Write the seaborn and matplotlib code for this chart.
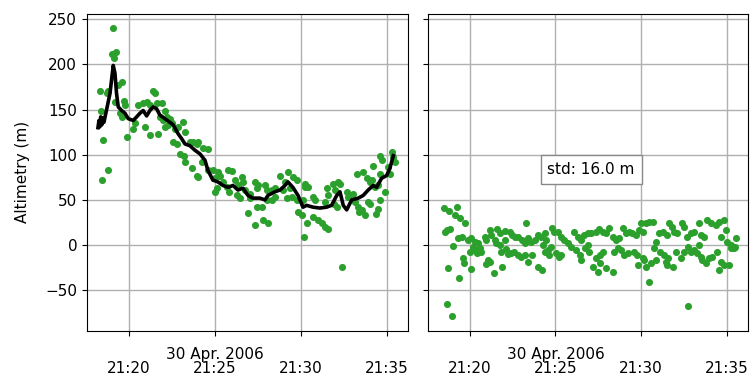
# Altimetry along track: raw GPS altitude + smoothed curve, and residuals

import pandas as pd
import matplotlib
matplotlib.use("Agg")
import matplotlib.pyplot as plt
import seaborn as sns

# --- raw altimetry (minutes after 21:00, metres) ---
alt_min = [19.05, 19.0, 19.24, 19.13, 18.31, 18.80, 18.70, 18.37, 18.51, 18.76,
           18.45, 19.58, 19.38, 19.19, 19.71, 19.77, 19.48, 19.6, 19.87, 20.25,
           20.35, 20.54, 20.83, 21.03, 21.22, 21.41, 21.51, 20.93, 21.25, 21.70,
           21.61, 21.90, 22.09, 22.19, 21.80, 21.99, 22.1, 22.28, 22.38, 22.52,
           22.67, 22.87, 22.58, 22.77, 23.16, 23.26, 22.97, 23.18, 23.28, 23.55,
           23.74, 23.94, 23.65, 23.96, 24.03, 24.32, 24.58, 24.23, 24.0, 24.61,
           24.90, 25.0, 25.19, 25.29, 25.10, 25.02, 25.77, 25.97, 25.48, 25.68,
           25.79, 26.16, 26.32, 26.55, 26.65, 26.26, 26.45, 26.74, 27.03, 27.05,
           26.94, 27.33, 27.52, 27.42, 27.44, 27.72, 27.35, 27.81, 28.10, 27.91,
           28.01, 28.30, 28.49, 28.0, 28.32, 28.51, 28.78, 29.07, 29.26, 29.55,
           29.75, 28.97, 29.36, 29.17, 29.46, 29.77, 29.84, 30.04, 30.13, 30.23,
           30.25, 30.42, 30.33, 30.2, 30.72, 30.81, 30.7, 31.01, 31.20, 31.40,
           31.59, 31.42, 31.49, 31.6, 31.88, 31.98, 32.17, 32.27, 31.9, 32.08,
           32.66, 32.75, 33.04, 33.14, 33.33, 33.53, 33.72, 33.35, 33.24, 33.62,
           33.82, 34.01, 33.91, 34.03, 34.11, 34.30, 34.20, 34.59, 34.69, 34.6,
           34.49, 34.57, 34.36, 34.5, 34.88, 35.08, 35.17, 35.27, 35.37, 35.47,
           32.37]
alt_m = [240, 212, 214, 207, 171, 171, 168, 149, 116, 83,
         72, 181, 177, 158, 160, 155, 146, 142, 120, 129,
         135, 155, 157, 158, 155, 171, 168, 131, 122, 123,
         157, 157, 149, 142, 142, 139, 131, 133, 140, 135,
         129, 131, 114, 112, 136, 125, 101, 99, 92, 114,
         114, 112, 85, 77, 114, 107, 106, 92, 75, 83,
         83, 74, 81, 77, 63, 59, 83, 82, 70, 64,
         59, 72, 66, 75, 70, 55, 52, 61, 57, 52,
         35, 70, 66, 63, 42, 42, 22, 28, 24, 66,
         61, 61, 63, 50, 50, 53, 77, 70, 81, 75,
         72, 61, 63, 52, 53, 50, 37, 33, 50, 64,
         68, 64, 24, 9, 53, 50, 31, 28, 24, 20,
         18, 48, 63, 55, 68, 61, 70, 68, 46, 42,
         59, 53, 57, 48, 42, 39, 33, 37, 79, 81,
         74, 70, 48, 46, 72, 64, 88, 99, 94, 79,
         66, 50, 34, 40, 59, 87, 79, 103, 98, 92,
         -24]

# --- smoothed altimetry (black curve) ---
smooth_min = [18.20, 18.26, 18.31, 18.36, 18.42, 18.48, 18.55, 18.90, 19.09, 19.19,
              19.28, 19.38, 19.58, 19.77, 19.96, 20.25, 20.45, 20.64, 20.83, 21.03,
              21.22, 21.41, 21.61, 21.80, 22.09, 22.38, 22.58, 22.87, 23.06, 23.26,
              23.55, 23.84, 24.13, 24.42, 24.59, 24.88, 25.17, 25.47, 25.76, 26.05,
              26.34, 26.63, 26.92, 27.21, 27.62, 27.91, 28.08, 28.49, 28.78, 29.07,
              29.24, 29.53, 29.83, 30.12, 30.33, 30.70, 31.10, 31.49, 31.78, 32.08,
              32.27, 32.46, 32.66, 32.95, 33.33, 33.62, 33.91, 34.20, 34.40, 34.69,
              34.98, 35.17, 35.37]
smooth_m = [130, 138, 131, 142, 133, 141, 136, 168, 199, 190,
            168, 153, 149, 146, 140, 138, 142, 146, 149, 143,
            149, 153, 151, 144, 140, 136, 133, 123, 118, 112,
            110, 105, 101, 94, 83, 72, 70, 66, 64, 66,
            61, 63, 55, 52, 52, 50, 55, 59, 61, 66,
            70, 64, 55, 42, 44, 42, 41, 42, 44, 55,
            59, 44, 39, 50, 52, 55, 61, 66, 64, 74,
            77, 85, 99]

# --- residuals (raw minus smoothed) ---
res_min = [18.51, 18.78, 19.23, 19.13, 19.42, 19.75, 18.55, 18.70, 18.84, 19.03,
           19.32, 19.52, 18.72, 19.36, 18.65, 18.97, 19.61, 19.67, 20.06, 20.0,
           19.90, 20.10, 20.29, 20.48, 20.19, 20.39, 20.58, 20.41, 20.68, 20.97,
           20.87, 21.06, 21.16, 20.95, 21.41, 21.18, 21.26, 21.61, 21.74, 21.45,
           21.55, 21.76, 22.03, 22.05, 22.33, 22.46, 22.62, 21.84, 22.13, 22.23,
           22.42, 22.6, 22.81, 23.01, 23.20, 21.86, 22.83, 23.03, 23.22, 23.39,
           23.30, 23.59, 23.78, 23.97, 24.17, 24.36, 24.46, 23.41, 23.61, 23.99,
           24.19, 24.26, 24.38, 24.55, 24.75, 24.77, 24.94, 25.13, 25.33, 25.52,
           25.72, 25.91, 24.65, 25.03, 25.23, 25.35, 26.10, 26.30, 26.49, 26.69,
           26.88, 26.20, 26.40, 26.51, 26.71, 26.9,
           27.08, 27.37, 27.56, 27.75, 27.95, 28.14, 28.33, 28.53, 28.72, 28.91,
           29.11, 29.30, 29.49, 29.69, 29.88, 29.98, 30.08, 30.27, 30.47, 30.66,
           30.85, 31.05, 31.24, 31.53, 31.63, 31.82, 31.92, 32.11, 32.40, 32.50,
           32.69, 32.89, 33.08, 33.37, 33.47, 33.66, 33.85, 34.05, 34.34, 34.53,
           34.83, 34.63, 34.92, 35.02, 35.21, 35.50, 35.41,
           27.17, 27.46, 27.93, 28.35, 26.98, 27.58, 27.77, 28.43, 28.62, 28.82,
           29.01, 29.20, 29.59, 29.78, 27.6, 27.39, 30.1, 30.17, 29.8, 30.29,
           30.56, 30.87, 30.45, 30.76, 31.07, 31.34, 31.55, 31.84, 32.02, 32.31,
           32.52, 31.44, 31.51, 32.71, 32.91, 33.1, 33.27, 33.49, 33.39, 33.56,
           33.76, 33.95, 34.14, 34.44, 34.65, 34.55, 34.85, 35.12, 32.73, 35.23,
           35.48]
res_m = [40.6, 38, 42.4, 33, 29.5, 25, 14.7, 16.6, 17.7, -1,
         7.4, 9.2, -25.8, -36, -65.6, -78.5, -14.7, -20, -27, -7.4,
         5.5, 7.4, 3.7, 1.9, -1.8, -5.5, -3.7, -9.2, -7.4, 5.5,
         9.2, -16.6, -18.5, -21, -30.6, 16.6, 11, 17.4, 13.6, 5.5,
         1.9, 0, 5.5, 15.8, 14.7, 11, 8.5, -7.4, -4.8, -10,
         -8.5, -7.4, -11, -13, -11, -24, 9.2, 5.5, 1.9, 7.4,
         24, 3.7, 5.5, 11, 9.2, 13, 5.5, -18.5, -11, -24.7,
         -27.7, 0, -7.4, -5.5, -1.8, 18.5, 14.7, 14.7, 9.2, 5.5,
         1.9, -1.8, -11, -9.2, -13, -11, 14.7, 9.2, 5.5, 11,
         13.6, -5.5, -11, -16.6, -3.7, 0,
         13, 14.7, 17.4, 14.7, 13, 18.5, 9.2, 5.5, 7.4, 18.5,
         13, 14.7, 13, 11, 16.6, 24, 14.7, 24, 25.8, 25.8,
         3.7, 13, 14.7, 11, 24, 19.5, 14.7, 13, 24, 20,
         9.2, 13, 14.7, 24, 11, 9.2, 27.7, 24, 22, 25.8,
         27.7, 9.2, 16.6, 3.7, 0, 7.4, -3.7,
         -24, -29.5, -25.8, -29.5, -7.4, -11, -7.4, -7.4, -3.7, -5.5,
         -11, -9.2, -7.4, -11, -20, -14.7, -14.7, -16.6, -22, -24,
         -20, -16.6, -40.6, -3.7, -7.4, -11, -14.7, -24, -7.4, -14.7,
         -7.4, -18.5, -22, -1.8, -7.4, -5.5, -9.2, -13, 0, -16.6,
         -20, -14.7, -13, -7.4, -18.5, -27.7, -22, -22, -68, -3.7,
         -1.8]

std_text = "std: 16.0 m"
tick_min = [20, 25, 30, 35]
tick_labels = ["\n21:20", "30 Apr. 2006\n21:25", "\n21:30", "\n21:35"]

base = pd.Timestamp("2006-04-30 21:00:00")
def to_time(mins):
    return base + pd.to_timedelta(mins, unit="m")

plt.rcParams["font.size"] = 11
fig = plt.figure(figsize=(7.56, 3.76), dpi=100)
ax1 = fig.add_axes([0.115, 0.12, 0.4246, 0.843])
ax2 = fig.add_axes([0.566, 0.12, 0.4233, 0.843], sharey=ax1)

green = "#2ca02c"
sns.scatterplot(x=to_time(alt_min), y=alt_m, ax=ax1, color=green, s=26,
                linewidth=0, zorder=2)
sns.lineplot(x=to_time(smooth_min), y=smooth_m, ax=ax1, color="black",
             linewidth=2.6, estimator=None, zorder=3)
sns.scatterplot(x=to_time(res_min), y=res_m, ax=ax2, color=green, s=26,
                linewidth=0, zorder=2)

for ax in (ax1, ax2):
    ax.set_xlim(to_time(17.56), to_time(36.22))
    ax.set_xticks(to_time(tick_min))
    ax.set_xticklabels(tick_labels, linespacing=0.9)
    ax.tick_params(axis="x", pad=8)
    ax.grid(True, color="#b0b0b0", linewidth=1)
    ax.set_axisbelow(True)
    ax.set_xlabel("")

ax1.set_ylim(-95, 256)
ax1.set_yticks([-50, 0, 50, 100, 150, 200, 250])
ax1.set_ylabel("Altimetry (m)", labelpad=11)
ax2.set_ylabel("")
plt.setp(ax2.get_yticklabels(), visible=False)

ax2.text(0.51, 0.51, std_text, transform=ax2.transAxes, ha="center",
         va="center", bbox=dict(facecolor="white", edgecolor="#888888", pad=5))

fig.savefig("out.png", dpi=100)
